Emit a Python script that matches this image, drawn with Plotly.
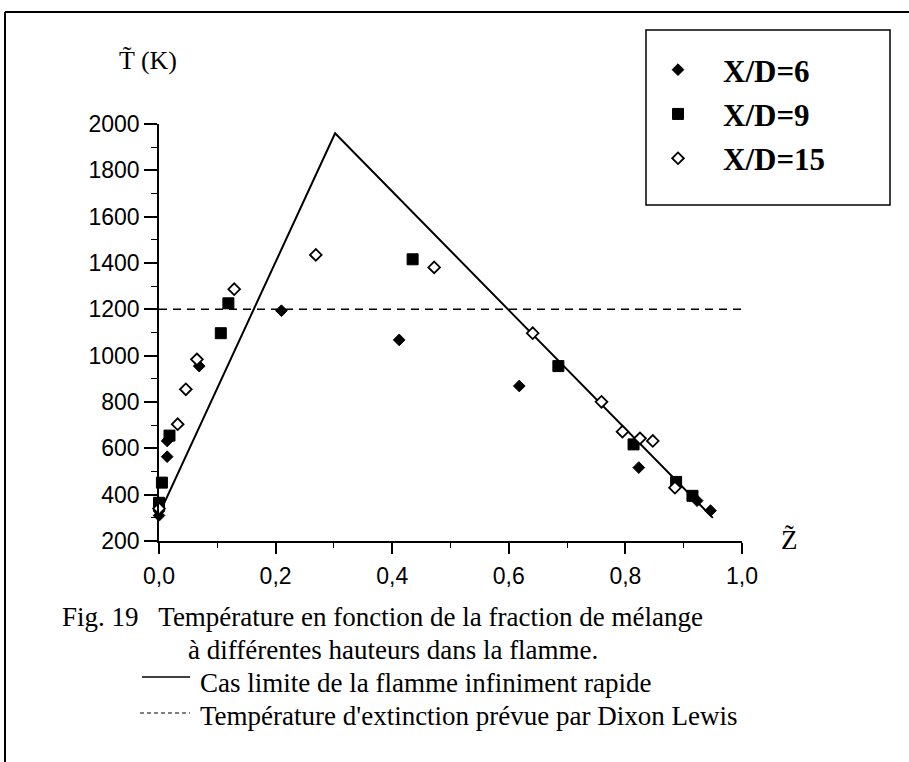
import plotly.graph_objects as go

# ---------------- data ----------------
z_xd6 = [0.0, 0.0, 0.014, 0.014, 0.069, 0.210, 0.412, 0.618, 0.823, 0.923, 0.946]
t_xd6 = [310, 330, 564, 632, 955, 1194, 1068, 869, 517, 374, 331]

z_xd9 = [0.0, 0.005, 0.018, 0.106, 0.119, 0.435, 0.685, 0.814, 0.887, 0.915]
t_xd9 = [365, 452, 655, 1097, 1226, 1416, 955, 617, 455, 395]

z_xd15 = [0.0, 0.032, 0.046, 0.065, 0.129, 0.269, 0.472, 0.641, 0.759, 0.795, 0.825, 0.847, 0.885]
t_xd15 = [340, 704, 855, 984, 1287, 1435, 1381, 1097, 801, 672, 643, 632, 430]

# infinitely fast flame limit
z_fast = [0.0, 0.302, 0.95]
t_fast = [315, 1960, 300]

# Dixon Lewis extinction temperature
z_ext = [0.0, 1.0]
t_ext = [1200, 1200]

x_ticks = [0.0, 0.2, 0.4, 0.6, 0.8, 1.0]
x_ticktext = ["0,0", "0,2", "0,4", "0,6", "0,8", "1,0"]
y_ticks = [200, 400, 600, 800, 1000, 1200, 1400, 1600, 1800, 2000]

caption_lines = [
    "Fig. 19   Température en fonction de la fraction de mélange",
    "à différentes hauteurs dans la flamme.",
    "Cas limite de la flamme infiniment rapide",
    "Température d'extinction prévue par Dixon Lewis",
]

# ---------------- layout geometry (pixels) ----------------
W, H = 909, 762
L, R, T, B = 159, 742, 124, 541


def px2x(px):
    return (px - L) / (R - L)


def px2y(py):
    return (B - py) / (B - T)


fig = go.Figure()

fig.add_trace(go.Scatter(x=z_fast, y=t_fast, mode="lines",
                         line=dict(color="black", width=2), showlegend=False,
                         hoverinfo="skip"))
fig.add_trace(go.Scatter(x=z_ext, y=t_ext, mode="lines",
                         line=dict(color="black", width=1.5, dash="8px,6px"),
                         showlegend=False, hoverinfo="skip"))

fig.add_trace(go.Scatter(x=z_xd6, y=t_xd6, mode="markers", name="X/D=6",
                         legendgroup="a",
                         marker=dict(symbol="diamond", size=9, color="black",
                                     line=dict(color="black", width=1))))
fig.add_trace(go.Scatter(x=z_xd9, y=t_xd9, mode="markers", name="X/D=9",
                         legendgroup="b",
                         marker=dict(symbol="square", size=11, color="black",
                                     line=dict(color="black", width=1))))
fig.add_trace(go.Scatter(x=z_xd15, y=t_xd15, mode="markers", name="X/D=15",
                         legendgroup="c",
                         marker=dict(symbol="diamond", size=9, color="white",
                                     line=dict(color="black", width=1.8))))

fig.update_traces(cliponaxis=False)

axis_common = dict(showline=True, linecolor="black", linewidth=1.5,
                   showgrid=False, zeroline=False, ticks="outside",
                   tickcolor="black", tickwidth=1.5,
                   tickfont=dict(family="Liberation Sans", size=23, color="black"))

fig.update_xaxes(range=[0, 1.0], tickvals=x_ticks, ticktext=x_ticktext,
                 ticklen=11, ticklabelstandoff=3,
                 minor=dict(dtick=0.1, ticklen=5, ticks="outside",
                            tickcolor="black", tickwidth=1.2),
                 **axis_common)
fig.update_yaxes(range=[200, 2000], tickvals=y_ticks, ticklen=13,
                 minor=dict(dtick=100, ticklen=6, ticks="outside",
                            tickcolor="black", tickwidth=1.2),
                 **axis_common)

shapes = []
# outer frame (top and left edges of the scanned page box)
shapes.append(dict(type="line", xref="paper", yref="paper",
                   x0=px2x(5), x1=px2x(912), y0=px2y(12), y1=px2y(12),
                   line=dict(color="black", width=2)))
shapes.append(dict(type="line", xref="paper", yref="paper",
                   x0=px2x(5), x1=px2x(5), y0=px2y(12), y1=px2y(770),
                   line=dict(color="black", width=2)))
# legend box
shapes.append(dict(type="rect", xref="paper", yref="paper",
                   x0=px2x(646), x1=px2x(890), y0=px2y(30), y1=px2y(205),
                   line=dict(color="black", width=1.5), fillcolor="rgba(0,0,0,0)"))
# caption line samples
shapes.append(dict(type="line", xref="paper", yref="paper",
                   x0=px2x(142), x1=px2x(190), y0=px2y(677), y1=px2y(677),
                   line=dict(color="black", width=1.5)))
shapes.append(dict(type="line", xref="paper", yref="paper",
                   x0=px2x(140), x1=px2x(190), y0=px2y(713), y1=px2y(713),
                   line=dict(color="black", width=1.2, dash="4px,3px")))

serif = "Liberation Serif"
cap_size = 27
annotations = [
    dict(text="T\u0303 (K)", x=px2x(117), y=px2y(60), xanchor="left", yanchor="middle",
         font=dict(family=serif, size=26, color="black")),
    dict(text="Z\u0303", x=px2x(779), y=px2y(540), xanchor="left", yanchor="middle",
         font=dict(family=serif, size=27, color="black")),
    dict(text=caption_lines[0], x=px2x(60), y=px2y(617), xanchor="left", yanchor="middle",
         font=dict(family=serif, size=cap_size, color="black")),
    dict(text=caption_lines[1], x=px2x(186), y=px2y(650), xanchor="left", yanchor="middle",
         font=dict(family=serif, size=cap_size, color="black")),
    dict(text=caption_lines[2], x=px2x(198), y=px2y(683), xanchor="left", yanchor="middle",
         font=dict(family=serif, size=cap_size, color="black")),
    dict(text=caption_lines[3], x=px2x(198), y=px2y(716), xanchor="left", yanchor="middle",
         font=dict(family=serif, size=cap_size, color="black")),
]
for a in annotations:
    a.update(xref="paper", yref="paper", showarrow=False)

fig.update_layout(
    width=W, height=H,
    margin=dict(l=L, r=W - R, t=T, b=H - B, pad=0),
    paper_bgcolor="white", plot_bgcolor="white",
    showlegend=True,
    legend=dict(x=px2x(633), y=px2y(43), xanchor="left", yanchor="top",
                bgcolor="rgba(0,0,0,0)", borderwidth=0,
                itemwidth=80, tracegroupgap=1,
                font=dict(family=serif, size=31, color="black", weight="bold")),
    shapes=shapes,
    annotations=annotations,
)

fig.write_html("out.html",
               config={"displayModeBar": False},
               post_script="document.body.style.margin='0px';document.body.style.overflow='hidden';")
